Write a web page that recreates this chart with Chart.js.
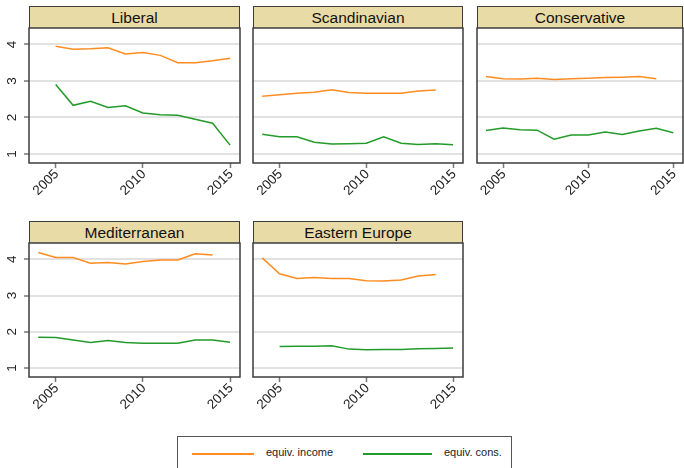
<!DOCTYPE html>
<html>
<head>
<meta charset="utf-8">
<script src="https://cdn.jsdelivr.net/npm/chart.js@4/dist/chart.umd.min.js"></script>
<style>
  body { margin: 0; background: #fff; width: 684px; height: 468px; overflow: hidden; position: relative;
         font-family: "Liberation Sans", Arial, sans-serif; }
  .strip { position: absolute; box-sizing: border-box; background: #e9dba6; border: 1.5px solid #3c3c3c;
           border-bottom: none; font-size: 15.5px; color: #111; text-align: center; line-height: 21px; }
  canvas { position: absolute; }
  .legend { position: absolute; left: 177px; top: 436px; width: 335px; height: 40px; box-sizing: border-box;
            border: 1.5px solid #555; }
  .key { position: absolute; height: 2px; top: 16px; }
  .lab { position: absolute; top: 9px; font-size: 11px; color: #222; }
</style>
</head>
<body>
<div class="legend">
  <div class="key" style="left:14px;width:62px;background:#ff8c21"></div>
  <div class="lab" style="left:88px">equiv. income</div>
  <div class="key" style="left:185px;width:69px;background:#239b2a"></div>
  <div class="lab" style="left:266px">equiv. cons.</div>
</div>
<script>
// survey years on the x axis
const years = [2004, 2005, 2006, 2007, 2008, 2009, 2010, 2011, 2012, 2013, 2014, 2015];
const xTicks = [2005, 2010, 2015];
const yTicks = [1, 2, 3, 4];

const regimes = ['Liberal', 'Scandinavian', 'Conservative', 'Mediterranean', 'Eastern Europe'];
const seriesNames = ['equiv. income', 'equiv. cons.'];

// equivalised income, one array per regime (null = no observation)
const incomeLiberal = [null, 3.95, 3.87, 3.88, 3.91, 3.74, 3.78, 3.70, 3.50, 3.50, 3.55, 3.62];
const incomeScandinavian = [2.58, 2.62, 2.66, 2.69, 2.76, 2.68, 2.66, 2.66, 2.66, 2.72, 2.75, null];
const incomeConservative = [3.12, 3.06, 3.05, 3.07, 3.04, 3.06, 3.07, 3.09, 3.10, 3.12, 3.06, null];
const incomeMediterranean = [4.19, 4.05, 4.05, 3.89, 3.91, 3.87, 3.94, 3.98, 3.98, 4.15, 4.12, null];
const incomeEastern = [4.04, 3.60, 3.47, 3.50, 3.47, 3.47, 3.41, 3.40, 3.43, 3.54, 3.58, null];

// equivalised consumption
const consLiberal = [null, 2.90, 2.33, 2.44, 2.27, 2.32, 2.12, 2.07, 2.06, 1.95, 1.84, 1.24];
const consScandinavian = [1.54, 1.47, 1.47, 1.32, 1.27, 1.28, 1.29, 1.47, 1.29, 1.26, 1.28, 1.25];
const consConservative = [1.64, 1.71, 1.66, 1.65, 1.40, 1.52, 1.52, 1.60, 1.53, 1.63, 1.70, 1.58];
const consMediterranean = [1.85, 1.84, 1.77, 1.70, 1.76, 1.70, 1.68, 1.68, 1.68, 1.77, 1.77, 1.71];
const consEastern = [null, 1.59, 1.60, 1.60, 1.61, 1.52, 1.50, 1.51, 1.51, 1.53, 1.54, 1.55];

const incomeData = [incomeLiberal, incomeScandinavian, incomeConservative, incomeMediterranean, incomeEastern];
const consData = [consLiberal, consScandinavian, consConservative, consMediterranean, consEastern];

// panel frames (plot area) in page pixels
const frames = [
  { left: 29, top: 28, w: 211, h: 135 },
  { left: 253, top: 28, w: 210, h: 135 },
  { left: 477, top: 28, w: 206, h: 135 },
  { left: 29, top: 243, w: 211, h: 134 },
  { left: 253, top: 243, w: 210, h: 134 }
];
const stripH = 22;
const padTop = 3, padRight = 3, xAxisH = 50;

const font = '"Liberation Sans", Arial, sans-serif';

// draws the box round the plot area
const framePlugin = {
  id: 'frame',
  afterDraw(chart) {
    const a = chart.chartArea;
    const ctx = chart.ctx;
    ctx.save();
    ctx.strokeStyle = '#3c3c3c';
    ctx.lineWidth = 1.5;
    ctx.strokeRect(a.left, a.top, a.right - a.left, a.bottom - a.top);
    ctx.restore();
  }
};

// tick labels: y turned 90 degrees (left column only), x turned 45 degrees
const tickLabelPlugin = {
  id: 'tickLabels',
  afterDraw(chart, args, opts) {
    const ctx = chart.ctx;
    const a = chart.chartArea;
    ctx.save();
    ctx.fillStyle = '#222';
    ctx.font = '13.5px ' + font;
    ctx.textBaseline = 'middle';
    if (opts.showY) {
      ctx.textAlign = 'center';
      yTicks.forEach(v => {
        ctx.save();
        ctx.translate(a.left - 17, chart.scales.y.getPixelForValue(v));
        ctx.rotate(-Math.PI / 2);
        ctx.fillText(String(v), 0, 0);
        ctx.restore();
      });
    }
    ctx.textAlign = 'right';
    xTicks.forEach(v => {
      ctx.save();
      ctx.translate(chart.scales.x.getPixelForValue(v) + 1, a.bottom + 9);
      ctx.rotate(-Math.PI / 4);
      ctx.fillText(String(v), 0, 0);
      ctx.restore();
    });
    ctx.restore();
  }
};

const toPoints = vals => years.map((yr, i) => ({ x: yr, y: vals[i] }));

regimes.forEach((name, i) => {
  const f = frames[i];
  const leftCol = (i === 0 || i === 3);
  const yW = leftCol ? 29 : 4;

  // header strip
  const strip = document.createElement('div');
  strip.className = 'strip';
  strip.style.left = f.left + 'px';
  strip.style.top = (f.top - stripH) + 'px';
  strip.style.width = f.w + 'px';
  strip.style.height = stripH + 'px';
  strip.textContent = name;
  document.body.appendChild(strip);

  const canvas = document.createElement('canvas');
  canvas.width = yW + f.w + padRight;
  canvas.height = padTop + f.h + xAxisH;
  canvas.style.left = (f.left - yW) + 'px';
  canvas.style.top = (f.top - padTop) + 'px';
  document.body.appendChild(canvas);

  new Chart(canvas.getContext('2d'), {
    type: 'line',
    data: {
      datasets: [{
        label: seriesNames[0],
        data: toPoints(incomeData[i]),
        borderColor: '#ff8c21',
        borderWidth: 1.5
      }, {
        label: seriesNames[1],
        data: toPoints(consData[i]),
        borderColor: '#239b2a',
        borderWidth: 1.5
      }]
    },
    options: {
      responsive: false,
      animation: false,
      devicePixelRatio: 1,
      layout: { padding: { left: 0, top: padTop, right: padRight, bottom: 0 } },
      elements: { point: { radius: 0 }, line: { tension: 0 } },
      plugins: {
        legend: { display: false },
        tooltip: { enabled: false },
        tickLabels: { showY: leftCol }
      },
      scales: {
        x: {
          type: 'linear',
          min: 2003.47,
          max: 2015.57,
          afterBuildTicks: s => { s.ticks = xTicks.map(v => ({ value: v })); },
          afterFit: s => { s.height = xAxisH; s.paddingLeft = 0; s.paddingRight = 0; },
          border: { display: false },
          grid: { drawOnChartArea: false, drawTicks: true, tickLength: 5, tickColor: '#777', tickWidth: 1.5 },
          ticks: { display: false }
        },
        y: {
          min: 0.75,
          max: 4.45,
          afterBuildTicks: s => { s.ticks = yTicks.map(v => ({ value: v })); },
          afterFit: s => { s.width = yW; s.paddingTop = 0; s.paddingBottom = 0; },
          border: { display: false },
          grid: {
            color: '#e2e2e2', lineWidth: 2,
            drawTicks: leftCol, tickLength: 5, tickColor: '#777', tickWidth: 1.5
          },
          ticks: { display: false }
        }
      }
    },
    plugins: [framePlugin, tickLabelPlugin]
  });
});
</script>
</body>
</html>
